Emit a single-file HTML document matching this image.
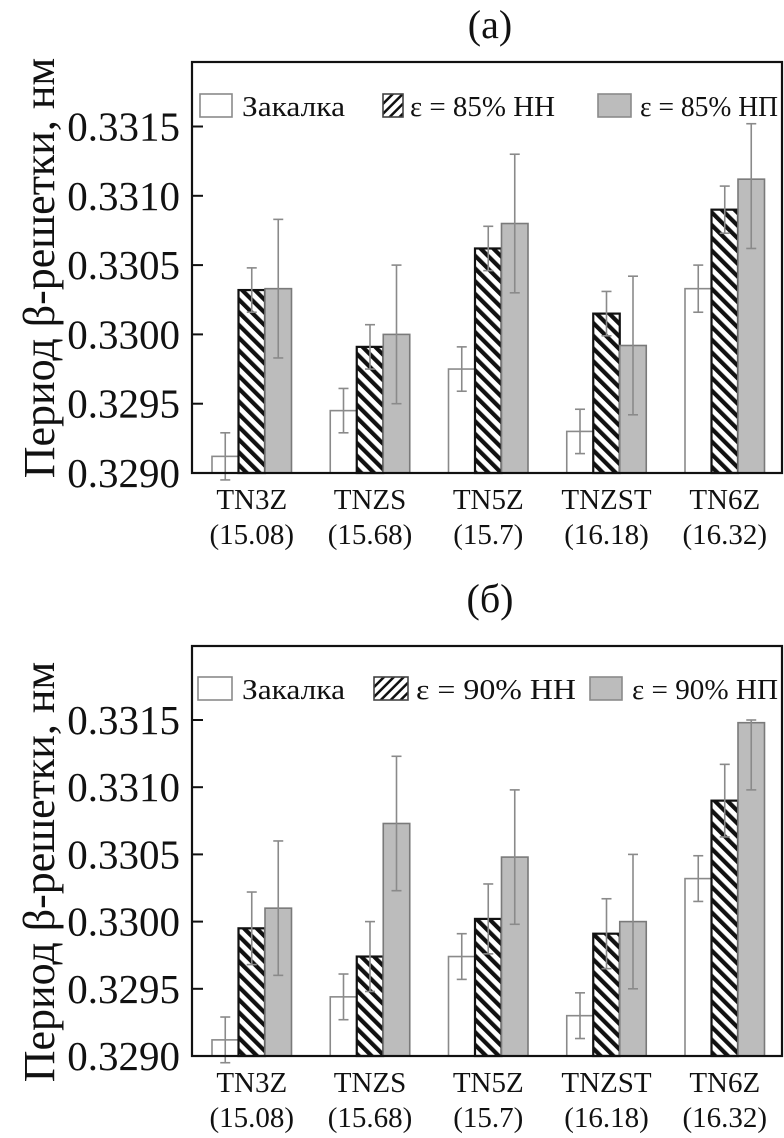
<!DOCTYPE html>
<html><head><meta charset="utf-8">
<style>
html,body{margin:0;padding:0;background:#fff;}
svg{display:block;font-family:"Liberation Serif",serif;}
</style></head>
<body>
<svg id="chart" width="784" height="1138" viewBox="0 0 784 1138" xmlns="http://www.w3.org/2000/svg">
<defs>
<pattern id="hatchBar" patternUnits="userSpaceOnUse" width="9" height="9" patternTransform="rotate(-45)">
<rect width="9" height="9" fill="#fff"/><rect x="0" y="0" width="4.2" height="9" fill="#111"/>
</pattern>
<pattern id="hatchLeg" patternUnits="userSpaceOnUse" width="7" height="7" patternTransform="rotate(45)">
<rect width="7" height="7" fill="#fff"/><rect x="0" y="0" width="2.5" height="7" fill="#111"/>
</pattern>
</defs>
</svg>
<script>
const categories = ["TN3Z","TNZS","TN5Z","TNZST","TN6Z"];
const catSub = ["(15.08)","(15.68)","(15.7)","(16.18)","(16.32)"];
const yTicks = [0.3290,0.3295,0.3300,0.3305,0.3310,0.3315];
const yTickLabels = ["0.3290","0.3295","0.3300","0.3305","0.3310","0.3315"];
// panel (a)
const aQuench = [0.32912,0.32945,0.32975,0.32930,0.33033];
const aQuenchErr = [0.00017,0.00016,0.00016,0.00016,0.00017];
const aHH = [0.33032,0.32991,0.33062,0.33015,0.33090];
const aHHErr = [0.00016,0.00016,0.00016,0.00016,0.00017];
const aHP = [0.33033,0.33000,0.33080,0.32992,0.33112];
const aHPErrUp = [0.0005,0.0005,0.0005,0.0005,0.0004];
const aHPErrDn = [0.0005,0.0005,0.0005,0.0005,0.0005];
// panel (b)
const bQuench = [0.32912,0.32944,0.32974,0.32930,0.33032];
const bQuenchErr = [0.00017,0.00017,0.00017,0.00017,0.00017];
const bHH = [0.32995,0.32974,0.33002,0.32991,0.33090];
const bHHErr = [0.00027,0.00026,0.00026,0.00026,0.00027];
const bHP = [0.33010,0.33073,0.33048,0.33000,0.33148];
const bHPErrUp = [0.0005,0.0005,0.0005,0.0005,0.00002];
const bHPErrDn = [0.0005,0.0005,0.0005,0.0005,0.0005];

const NS="http://www.w3.org/2000/svg";
const svg=document.getElementById('chart');
function mk(tag,attrs,parent){const e=document.createElementNS(NS,tag);for(const k in attrs)e.setAttribute(k,attrs[k]);(parent||svg).appendChild(e);return e;}

function panel(p){
  const g=mk('g',{});
  
  
  const L=192,R=782,T=p.top,B=p.bottom;
  const yS=v=>B-(v-0.3290)/0.0005*p.step;
  const gx=i=>212+i*118.25;
  const bw=26.5;
  const t=mk('text',{x:490,y:p.titleY,'font-size':40,'text-anchor':'middle',fill:'#111'},g);
  t.textContent=p.title;
  
  
  const yl=mk('text',{x:0,y:0,'font-size':44,'text-anchor':'middle',fill:'#111',transform:`translate(54,${p.ylabelY}) rotate(-90)`},g);
  yl.textContent="Период β-решетки, нм";
  
  
  yTicks.forEach((v,i)=>{
    const y=yS(v);
    const tk=mk('line',{x1:L,x2:L+11,y1:y,y2:y,stroke:'#111','stroke-width':2},g);
    
    
    const tl=mk('text',{x:180,y:y+14,'font-size':41,'text-anchor':'end',fill:'#111'},g);
    tl.textContent=yTickLabels[i];
    
    
  });
  function errbar(x,v,up,dn){
    const y1=yS(v+up),y2=yS(v-dn);
    const e=mk('g',{stroke:'#8a8a8a','stroke-width':1.6},g);
    
    
    mk('line',{x1:x,x2:x,y1:y1,y2:y2},e);
    mk('line',{x1:x-5,x2:x+5,y1:y1,y2:y1},e);
    mk('line',{x1:x-5,x2:x+5,y1:y2,y2:y2},e);
  }
  categories.forEach((c,i)=>{
    const x0=gx(i);
    const sets=[
      {v:p.q[i],up:p.qe[i],dn:p.qe[i],fill:'#fff',stroke:'#8a8a8a',sw:1.6,name:'bar-quench'},
      {v:p.hh[i],up:p.hhe[i],dn:p.hhe[i],fill:'url(#hatchBar)',stroke:'#111',sw:2.2,name:'bar-hh'},
      {v:p.hp[i],up:p.hpu[i],dn:p.hpd[i],fill:'#bcbcbc',stroke:'#7a7a7a',sw:1.6,name:'bar-hp'}
    ];
    sets.forEach((s,j)=>{
      const x=x0+j*bw, y=yS(s.v);
      const r=mk('rect',{x:x,y:y,width:bw,height:B-y,fill:s.fill,stroke:s.stroke,'stroke-width':s.sw},g);
      
      
    });
    sets.forEach((s,j)=>errbar(x0+j*bw+bw/2,s.v,s.up,s.dn));
    const cl=mk('text',{x:x0+bw*1.5,y:B+36,'font-size':29,'text-anchor':'middle',fill:'#111'},g);
    cl.textContent=c;
    
    
    const cs=mk('text',{x:x0+bw*1.5,y:B+71,'font-size':29,'text-anchor':'middle',fill:'#111'},g);
    cs.textContent=catSub[i];
    
    
  });
  const fr=mk('rect',{x:L,y:T,width:R-L,height:B-T,fill:'none',stroke:'#111','stroke-width':2.2},g);
  
  
  const ly=p.legY;
  const lg=mk('g',{},g);
  
  
  const items=[
    {bx:p.lb[0],w:p.lw[0],fill:'#fff',stroke:'#8a8a8a',text:'Закалка',tx:p.lt[0],tw:p.tw[0]},
    {bx:p.lb[1],w:p.lw[1],fill:'url(#hatchLeg)',stroke:'#444',text:p.hhLabel,tx:p.lt[1],tw:p.tw[1]},
    {bx:p.lb[2],w:p.lw[2],fill:'#bcbcbc',stroke:'#8a8a8a',text:p.hpLabel,tx:p.lt[2],tw:p.tw[2]}
  ];
  items.forEach((it,k)=>{
    const e=mk('g',{},lg);
    
    
    mk('rect',{x:it.bx,y:ly-12,width:it.w,height:23,fill:it.fill,stroke:it.stroke,'stroke-width':1.6},e);
    const tt=mk('text',{x:it.tx,y:ly+10,'font-size':28,fill:'#111',textLength:it.tw,lengthAdjust:'spacingAndGlyphs'},e);
    tt.textContent=it.text;
  });
}
panel({name:'panel-a',title:'(а)',titleY:38,top:62,bottom:473,step:69.3,ylabelY:268,
  q:aQuench,qe:aQuenchErr,hh:aHH,hhe:aHHErr,hp:aHP,hpu:aHPErrUp,hpd:aHPErrDn,
  legY:106,lb:[200,383,598],lw:[32,20,33],lt:[242,410,640],tw:[103,145,138],hhLabel:'ε = 85% НН',hpLabel:'ε = 85% НП'});
panel({name:'panel-b',title:'(б)',titleY:612,top:646,bottom:1056,step:67.2,ylabelY:872,
  q:bQuench,qe:bQuenchErr,hh:bHH,hhe:bHHErr,hp:bHP,hpu:bHPErrUp,hpd:bHPErrDn,
  legY:689,lb:[198,374,590],lw:[34,34,32],lt:[242,416,632],tw:[103,160,146],hhLabel:'ε = 90% НН',hpLabel:'ε = 90% НП'});
</script>
</body></html>
